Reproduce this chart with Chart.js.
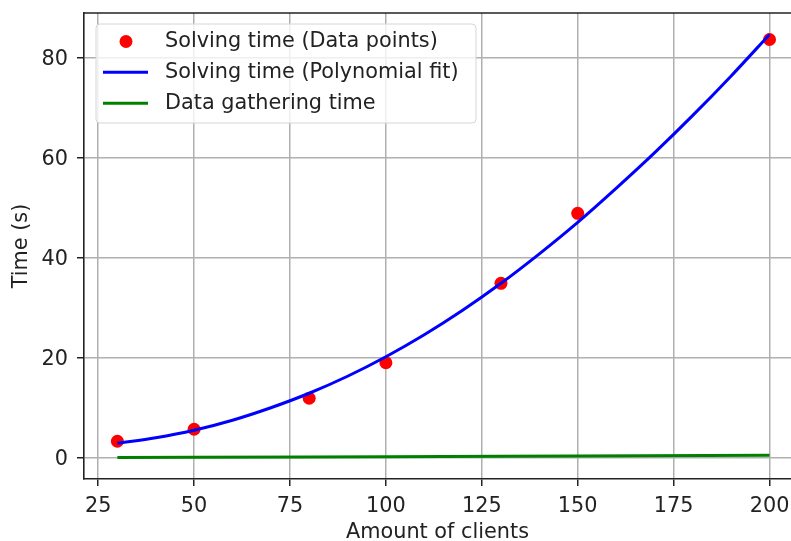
<!DOCTYPE html>
<html>
<head>
<meta charset="utf-8">
<script src="https://cdn.jsdelivr.net/npm/chart.js@4.4.1/dist/chart.umd.min.js"></script>
<style>
  html, body { margin: 0; padding: 0; background: #fff; }
  #wrap { width: 791px; height: 541px; }
</style>
</head>
<body>
<div id="wrap"><canvas id="myChart" width="791" height="541"></canvas></div>
<script>
// measured runs
var clients = [30, 50, 80, 100, 130, 150, 200];
var solvingTime = [3.3, 5.7, 11.9, 19.0, 34.9, 48.9, 83.7];
var gatheringTime = [0.02, 0.08, 0.15, 0.2, 0.3, 0.35, 0.47];

// polynomial fit curve, sampled every 10 clients
var fitClients = [30, 40, 50, 60, 70, 80, 90, 100, 110, 120, 130, 140, 150, 160, 170, 180, 190, 200];
var fitTime = [2.9, 4.0, 5.5, 7.5, 10.0, 12.9, 16.3, 20.2, 24.6, 29.5, 34.9, 40.8, 47.1, 53.9, 61.0, 68.5, 76.4, 84.7];

var xTicks = [25, 50, 75, 100, 125, 150, 175, 200];
var yTicks = [0, 20, 40, 60, 80];

var labels = ['Solving time (Data points)', 'Solving time (Polynomial fit)', 'Data gathering time'];

function toPoints(xs, ys) {
	var pts = [];
	for (var i = 0; i < xs.length; i++) pts.push({ x: xs[i], y: ys[i] });
	return pts;
}

var FONT = '"DejaVu Sans", sans-serif';
var TEXT = '#222222';

// top spine + legend box inside the plot
var framePlugin = {
	id: 'frame',
	afterDraw: function(chart) {
		var ctx = chart.ctx;
		var a = chart.chartArea;
		ctx.save();
		ctx.strokeStyle = '#222222';
		ctx.lineWidth = 1.6;
		ctx.beginPath();
		ctx.moveTo(a.left, a.top);
		ctx.lineTo(a.right, a.top);
		ctx.stroke();

		// legend
		var bx = 96, by = 24, bw = 380, bh = 99, r = 4;
		ctx.beginPath();
		ctx.moveTo(bx + r, by);
		ctx.arcTo(bx + bw, by, bx + bw, by + bh, r);
		ctx.arcTo(bx + bw, by + bh, bx, by + bh, r);
		ctx.arcTo(bx, by + bh, bx, by, r);
		ctx.arcTo(bx, by, bx + bw, by, r);
		ctx.closePath();
		ctx.fillStyle = 'rgba(255,255,255,0.8)';
		ctx.fill();
		ctx.strokeStyle = '#d6d6d6';
		ctx.lineWidth = 1;
		ctx.stroke();

		var ds = chart.data.datasets;
		ctx.font = '20.8px ' + FONT;
		ctx.textBaseline = 'middle';
		ctx.textAlign = 'left';
		for (var i = 0; i < ds.length; i++) {
			var y = 41.5 + i * 30.85;
			if (ds[i].showLine === false) {
				ctx.fillStyle = ds[i].backgroundColor;
				ctx.beginPath();
				ctx.arc(126, y, 6.5, 0, Math.PI * 2);
				ctx.fill();
			} else {
				ctx.strokeStyle = ds[i].borderColor;
				ctx.lineWidth = 3;
				ctx.beginPath();
				ctx.moveTo(103, y);
				ctx.lineTo(148, y);
				ctx.stroke();
			}
			ctx.fillStyle = TEXT;
			ctx.fillText(ds[i].label, 165, y);
		}
		ctx.restore();
	}
};

var ctx = document.getElementById('myChart').getContext('2d');

var myChart = new Chart(ctx, {
	type: 'scatter',
	data: {
		datasets: [{
			label: labels[0],
			data: toPoints(clients, solvingTime),
			showLine: false,
			backgroundColor: '#ff0000',
			borderColor: '#ff0000',
			pointRadius: 6.5,
			pointBorderWidth: 0,
			order: 2
		}, {
			label: labels[1],
			data: toPoints(fitClients, fitTime),
			showLine: true,
			borderColor: '#0000ff',
			backgroundColor: '#0000ff',
			borderWidth: 3,
			pointRadius: 0,
			cubicInterpolationMode: 'monotone',
			order: 1
		}, {
			label: labels[2],
			data: toPoints(clients, gatheringTime),
			showLine: true,
			borderColor: '#008000',
			backgroundColor: '#008000',
			borderWidth: 3,
			pointRadius: 0,
			order: 0
		}]
	},
	options: {
		responsive: false,
		devicePixelRatio: 1,
		animation: false,
		layout: { autoPadding: false, padding: { top: 13, right: 0, bottom: 0, left: 0 } },
		plugins: {
			legend: { display: false },
			tooltip: { enabled: false }
		},
		scales: {
			x: {
				type: 'linear',
				min: 21.3,
				max: 205.6,
				afterBuildTicks: function(scale) {
					scale.ticks = xTicks.map(function(v) { return { value: v }; });
				},
				afterFit: function(scale) {
					scale.height = 62;
					scale.paddingLeft = 0;
					scale.paddingRight = 0;
				},
				grid: { color: '#b0b0b0', lineWidth: 1.5, tickColor: '#222222', tickLength: 7, tickWidth: 1.5 },
				border: { color: '#222222', width: 1.6 },
				ticks: { color: TEXT, font: { family: FONT, size: 20.8 }, padding: 8, maxRotation: 0 },
				title: {
					display: true,
					text: 'Amount of clients',
					color: TEXT,
					font: { family: FONT, size: 20.8, lineHeight: 1 },
					padding: { top: 0, bottom: -2 }
				}
			},
			y: {
				type: 'linear',
				min: -4.26,
				max: 89,
				afterBuildTicks: function(scale) {
					scale.ticks = yTicks.map(function(v) { return { value: v }; });
				},
				afterFit: function(scale) {
					scale.width = 84;
					scale.paddingTop = 0;
					scale.paddingBottom = 0;
				},
				grid: { color: '#b0b0b0', lineWidth: 1.5, tickColor: '#222222', tickLength: 7, tickWidth: 1.5 },
				border: { color: '#222222', width: 1.6 },
				ticks: { color: TEXT, font: { family: FONT, size: 20.8 }, padding: 9, labelOffset: 2 },
				title: {
					display: true,
					text: 'Time (s)',
					color: TEXT,
					font: { family: FONT, size: 20.8, lineHeight: 1.2 },
					padding: { top: 9, bottom: 0 }
				}
			}
		}
	},
	plugins: [framePlugin]
});
</script>
</body>
</html>
